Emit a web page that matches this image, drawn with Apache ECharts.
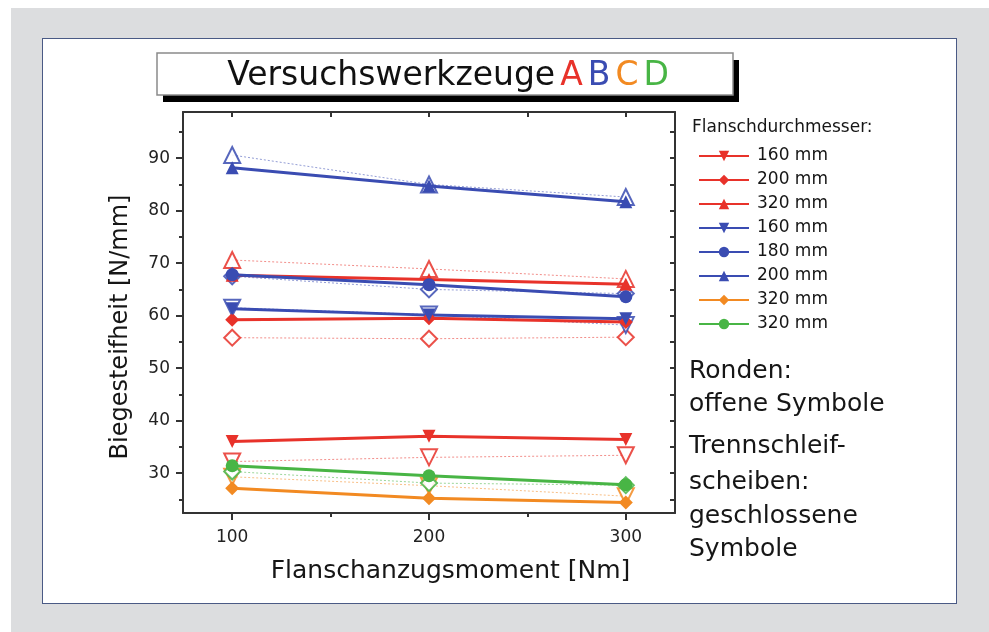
<!DOCTYPE html>
<html>
<head>
<meta charset="utf-8">
<script src="https://cdn.jsdelivr.net/npm/echarts@6/dist/echarts.min.js"></script>
<style>
  html, body { margin: 0; padding: 0; width: 989px; height: 632px; background: #ffffff; overflow: hidden; }
  #bg { position: absolute; left: 11px; top: 8px; right: 0; bottom: 0; background: #dcdddf; }
  #panel { position: absolute; left: 42px; top: 38px; width: 913px; height: 564px; background: #ffffff; border: 1.5px solid #4a5a85; }
  #chart { position: absolute; left: 0; top: 0; width: 989px; height: 632px; }
</style>
</head>
<body>
<div id="bg"></div>
<div id="panel"></div>
<div id="chart"></div>
<script>
// ---- data ----
const xValues = [100, 200, 300];
const xLabelValues = [100, 200, 300];
const yLabelValues = [30, 40, 50, 60, 70, 80, 90];

// closed symbols (Trennschleifscheiben)
const A160 = [36.0, 37.0, 36.4];
const A200 = [59.2, 59.5, 58.8];
const A320 = [67.7, 66.9, 66.0];
const B160 = [61.3, 60.1, 59.4];
const B180 = [67.8, 65.9, 63.6];
const B200 = [88.2, 84.7, 81.7];
const C320 = [27.1, 25.2, 24.4];
const D320 = [31.4, 29.5, 27.8];

// open symbols (Ronden)
const A160o = [32.2, 33.0, 33.4];
const A200o = [55.8, 55.6, 55.9];
const A320o = [70.6, 68.9, 67.0];
const B160o = [61.5, 60.2, 58.2];
const B180o = [67.5, 65.0, 64.2];
const B200o = [90.6, 85.0, 82.6];
const C320o = [29.3, 27.6, 25.6];
const D320o = [30.3, 28.1, 27.7];

const legendTitle = 'Flanschdurchmesser:';
const xName = 'Flanschanzugsmoment [Nm]';
const yName = 'Biegesteifheit [N/mm]';

const RED = '#e8322a', BLUE = '#3a4cb2', ORANGE = '#f28a22', GREEN = '#48b545';
const FONT = 'DejaVu Sans';
const TXT = '#161616';

function pts(arr) { return arr.map((v, i) => [xValues[i], v]); }

function closed(name, data, color, symbol, rot) {
  return {
    type: 'line', name: name, data: pts(data), z: 4,
    symbol: symbol, symbolSize: symbol === 'diamond' ? 14 : 13, symbolRotate: rot || 0,
    lineStyle: { color: color, width: 3 },
    itemStyle: { color: color, borderWidth: 0 },
    emphasis: { disabled: true }
  };
}
function open(name, data, color, symbol, rot) {
  return {
    type: 'line', name: name, data: pts(data), z: 3,
    symbol: symbol, symbolSize: 16, symbolRotate: rot || 0,
    lineStyle: { color: color, width: 1, type: [2, 2], opacity: 0.55 },
    itemStyle: { color: color, borderColor: color, borderWidth: 1.5, opacity: 0.85 },
    emphasis: { disabled: true }
  };
}

const series = [
  open('oA|160 mm', A160o, RED, 'emptyTriangle', 180),
  open('oA|200 mm', A200o, RED, 'emptyDiamond'),
  open('oA|320 mm', A320o, RED, 'emptyTriangle'),
  open('oB|160 mm', B160o, BLUE, 'emptyTriangle', 180),
  open('oB|180 mm', B180o, BLUE, 'emptyDiamond'),
  open('oB|200 mm', B200o, BLUE, 'emptyTriangle'),
  open('oC|320 mm', C320o, ORANGE, 'emptyTriangle', 180),
  open('oD|320 mm', D320o, GREEN, 'emptyDiamond'),
  closed('A|160 mm', A160, RED, 'triangle', 180),
  closed('A|200 mm', A200, RED, 'diamond'),
  closed('A|320 mm', A320, RED, 'triangle'),
  closed('B|160 mm', B160, BLUE, 'triangle', 180),
  closed('B|180 mm', B180, BLUE, 'circle'),
  closed('B|200 mm', B200, BLUE, 'triangle'),
  closed('C|320 mm', C320, ORANGE, 'diamond'),
  closed('D|320 mm', D320, GREEN, 'circle')
];

const axisCol = '#333';
const xMin = 75, xMax = 325, yMin = 22.4, yMax = 98.8;

const chart = echarts.init(document.getElementById('chart'), null, { renderer: 'canvas' });
chart.setOption({
  animation: false,
  backgroundColor: 'transparent',
  title: {
    text: '{k|Versuchswerkzeuge} {a|A} {b|B} {c|C} {d|D}',
    left: 443, top: 55, textAlign: 'center',
    textStyle: {
      fontWeight: 'normal',
      rich: {
        k: { fontFamily: FONT, fontSize: 33, fontWeight: 'normal', color: '#111' },
        a: { fontFamily: FONT, fontSize: 33, fontWeight: 'normal', color: RED },
        b: { fontFamily: FONT, fontSize: 33, fontWeight: 'normal', color: BLUE },
        c: { fontFamily: FONT, fontSize: 33, fontWeight: 'normal', color: ORANGE },
        d: { fontFamily: FONT, fontSize: 33, fontWeight: 'normal', color: GREEN }
      }
    }
  },
  grid: { left: 183, top: 112, right: 314, bottom: 119, containLabel: false },
  legend: {
    data: series.filter(s => !s.name.startsWith('o')).map(s => s.name),
    orient: 'vertical', left: 693, top: 142,
    itemWidth: 50, itemHeight: 13, itemGap: 6,
    formatter: n => n.split('|')[1],
    textStyle: { fontFamily: FONT, fontSize: 17, color: TXT, lineHeight: 18, padding: [0, 0, 0, 3] },
    selectedMode: false
  },
  xAxis: [
    {
      type: 'value', min: xMin, max: xMax, position: 'bottom',
      name: xName, nameLocation: 'middle', nameGap: 46,
      nameTextStyle: { fontFamily: FONT, fontSize: 25, color: TXT, padding: [0, 0, 0, 43] },
      axisLine: { show: true, lineStyle: { color: axisCol, width: 2 } },
      axisTick: { show: true, customValues: [100, 200, 300], length: 7, lineStyle: { color: axisCol, width: 2 } },
      axisLabel: { customValues: xLabelValues, fontFamily: FONT, fontSize: 17, color: '#222', margin: 16 },
      splitLine: { show: false }
    },
    {
      type: 'value', min: xMin, max: xMax, position: 'bottom',
      axisLine: { show: false },
      axisTick: { show: true, customValues: [150, 250], length: 4, lineStyle: { color: axisCol, width: 2 } },
      axisLabel: { show: false }, splitLine: { show: false }
    },
    {
      type: 'value', min: xMin, max: xMax, position: 'top',
      axisLine: { show: true, lineStyle: { color: axisCol, width: 2 } },
      axisTick: { show: true, inside: true, customValues: [100, 150, 200, 250, 300], length: 5, lineStyle: { color: axisCol, width: 2 } },
      axisLabel: { show: false }, splitLine: { show: false }
    }
  ],
  yAxis: [
    {
      type: 'value', min: yMin, max: yMax, position: 'left',
      name: yName, nameLocation: 'middle', nameGap: 50, nameRotate: 90,
      nameTextStyle: { fontFamily: FONT, fontSize: 24, color: TXT, padding: [0, 29, 0, 0] },
      axisLine: { show: true, lineStyle: { color: axisCol, width: 2 } },
      axisTick: { show: true, customValues: yLabelValues, length: 7, lineStyle: { color: axisCol, width: 2 } },
      axisLabel: { customValues: yLabelValues, fontFamily: FONT, fontSize: 17, color: '#222', margin: 13 },
      splitLine: { show: false }
    },
    {
      type: 'value', min: yMin, max: yMax, position: 'left',
      axisLine: { show: false },
      axisTick: { show: true, customValues: [25, 35, 45, 55, 65, 75, 85, 95], length: 4, lineStyle: { color: axisCol, width: 2 } },
      axisLabel: { show: false }, splitLine: { show: false }
    },
    {
      type: 'value', min: yMin, max: yMax, position: 'right',
      axisLine: { show: true, lineStyle: { color: axisCol, width: 2 } },
      axisTick: { show: true, inside: true, customValues: [25, 30, 35, 40, 45, 50, 55, 60, 65, 70, 75, 80, 85, 90, 95], length: 5, lineStyle: { color: axisCol, width: 2 } },
      axisLabel: { show: false }, splitLine: { show: false }
    }
  ],
  graphic: [
    { type: 'rect', shape: { x: 163, y: 60, width: 576, height: 42 }, style: { fill: '#000' }, z: 0 },
    { type: 'rect', shape: { x: 157, y: 53, width: 576, height: 42 }, style: { fill: '#fff', stroke: '#8a8a8a', lineWidth: 1.5 }, z: 1 },
    { type: 'text', x: 692, y: 128, style: { text: legendTitle, font: '17px "DejaVu Sans"', fill: TXT, verticalAlign: 'middle' } },
    { type: 'text', x: 689, y: 371, style: { text: 'Ronden:', font: '25px "DejaVu Sans"', fill: TXT, verticalAlign: 'middle' } },
    { type: 'text', x: 689, y: 404, style: { text: 'offene Symbole', font: '25px "DejaVu Sans"', fill: TXT, verticalAlign: 'middle' } },
    { type: 'text', x: 689, y: 446, style: { text: 'Trennschleif-', font: '25px "DejaVu Sans"', fill: TXT, verticalAlign: 'middle' } },
    { type: 'text', x: 689, y: 482, style: { text: 'scheiben:', font: '25px "DejaVu Sans"', fill: TXT, verticalAlign: 'middle' } },
    { type: 'text', x: 689, y: 516, style: { text: 'geschlossene', font: '25px "DejaVu Sans"', fill: TXT, verticalAlign: 'middle' } },
    { type: 'text', x: 689, y: 549, style: { text: 'Symbole', font: '25px "DejaVu Sans"', fill: TXT, verticalAlign: 'middle' } }
  ],
  series: series
});
</script>
</body>
</html>
